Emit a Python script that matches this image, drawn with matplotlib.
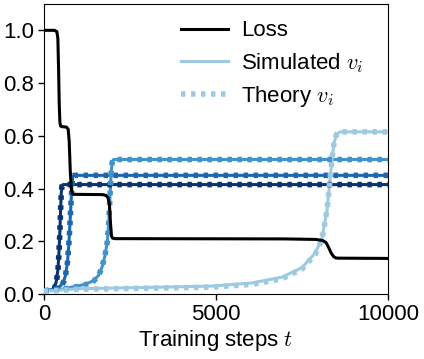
import numpy as np
import matplotlib
matplotlib.use("Agg")
import matplotlib.pyplot as plt

plt.rcParams['font.family'] = ['Liberation Sans', 'DejaVu Sans']
plt.rcParams['mathtext.fontset'] = 'cm'

# loss curve
loss_t = [0, 300, 370, 400, 420, 440, 460, 480, 500, 650, 700, 730, 760, 790, 820, 850,
          1700, 1800, 1860, 1900, 1930, 1960, 1990, 2050, 7000, 7900, 8100, 8200, 8280,
          8350, 8420, 8480, 8550, 10000]
loss_v = [1.0, 1.0, 0.995, 0.97, 0.86, 0.72, 0.65, 0.637, 0.635, 0.633, 0.625, 0.58, 0.47,
          0.40, 0.382, 0.378, 0.377, 0.374, 0.365, 0.34, 0.27, 0.22, 0.212, 0.21, 0.209,
          0.207, 0.203, 0.195, 0.175, 0.155, 0.142, 0.137, 0.136, 0.135]

# simulated v_i, one list per feature
v1_t = [0, 200, 300, 350, 400, 430, 460, 480, 500, 520, 550, 10000]
v1_v = [0.012, 0.014, 0.025, 0.045, 0.09, 0.15, 0.24, 0.32, 0.385, 0.41, 0.415, 0.415]

v2_t = [0, 300, 470, 560, 620, 680, 720, 750, 780, 800, 820, 840, 870, 10000]
v2_v = [0.012, 0.018, 0.03, 0.045, 0.07, 0.12, 0.19, 0.26, 0.34, 0.39, 0.43, 0.447, 0.45, 0.45]

v3_t = [0, 500, 950, 1200, 1430, 1580, 1680, 1770, 1840, 1880, 1920, 1950, 1980, 2020, 10000]
v3_v = [0.012, 0.018, 0.03, 0.037, 0.05, 0.07, 0.1, 0.145, 0.2, 0.27, 0.38, 0.46, 0.5, 0.51, 0.51]

v4_t = [0, 1000, 3000, 4880, 6050, 6920, 7500, 7880, 8080, 8230, 8310, 8380, 8430,
        8500, 8600, 10000]
v4_v = [0.01, 0.02, 0.025, 0.03, 0.042, 0.064, 0.1, 0.155, 0.21, 0.32, 0.43, 0.52, 0.57,
        0.605, 0.615, 0.615]

# theory v_i
th1_v = [0.012, 0.013, 0.022, 0.04, 0.085, 0.15, 0.24, 0.32, 0.385, 0.41, 0.415, 0.415]
th2_v = [0.012, 0.017, 0.028, 0.043, 0.068, 0.12, 0.19, 0.26, 0.34, 0.39, 0.43, 0.447, 0.45, 0.45]
th3_v = [0.012, 0.017, 0.028, 0.035, 0.048, 0.068, 0.1, 0.145, 0.2, 0.27, 0.38, 0.46, 0.5, 0.51, 0.51]
th4_v = [0.01, 0.018, 0.022, 0.026, 0.037, 0.058, 0.095, 0.15, 0.205, 0.32, 0.43, 0.52, 0.57,
         0.605, 0.615, 0.615]

colors = ['#0a3470', '#1c67ae', '#4393cb', '#9ecae1']

fig = plt.figure(figsize=(4.24, 3.59), dpi=100)
ax = fig.add_axes([0.104, 0.181, 0.811, 0.808])

ax.plot(loss_t, loss_v, color='k', lw=2.2, label='Loss', zorder=5)

sims = [(v1_t, v1_v, th1_v), (v2_t, v2_v, th2_v), (v3_t, v3_v, th3_v), (v4_t, v4_v, th4_v)]
for i, (t, v, th) in enumerate(sims):
    lab_s = r'Simulated $v_i$' if i == 3 else None
    lab_t = r'Theory $v_i$' if i == 3 else None
    ax.plot(t, v, color=colors[i], lw=2.2, label=lab_s, zorder=3)
    ax.plot(t, th, color=colors[i], lw=4, dashes=(0.8, 1.0), label=lab_t, zorder=4)

ax.set_xlim(0, 10000)
ax.set_ylim(0, 1.1)
ax.set_xticks([0, 5000, 10000])
ax.set_yticks([0.0, 0.2, 0.4, 0.6, 0.8, 1.0])
ax.set_yticklabels(['0.0', '0.2', '0.4', '0.6', '0.8', '1.0'])
ax.tick_params(labelsize=16, length=4, width=1, pad=3)
ax.set_xlabel(r'Training steps $t$', fontsize=16, labelpad=2)

h, l = ax.get_legend_handles_labels()
ax.legend(h, l, loc='upper right', frameon=False, fontsize=16, handlelength=2.1,
          handletextpad=0.6, bbox_to_anchor=(0.987, 1.012), labelspacing=0.42)

fig.savefig('out.png', dpi=100)
